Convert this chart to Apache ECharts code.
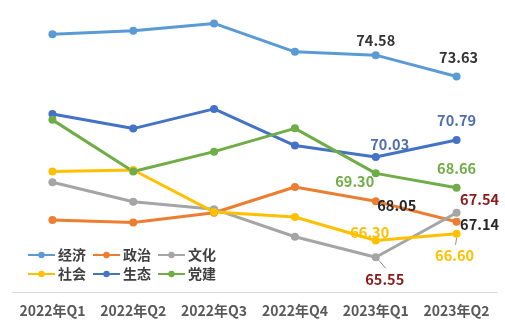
<!DOCTYPE html>
<html><head><meta charset="utf-8">
<script src="https://cdn.jsdelivr.net/npm/echarts@6/dist/echarts.min.js"></script>
<style>html,body{margin:0;padding:0;background:#fff}#c{width:505px;height:328px}</style>
</head><body><div id="c"></div>
<script>
const categories = ['2022年Q1','2022年Q2','2022年Q3','2022年Q4','2023年Q1','2023年Q2'];
const seriesNames = ['经济','政治','文化','社会','生态','党建'];
const jingji = [75.51, 75.67, 76.00, 74.73, 74.58, 73.63];
const zhengzhi = [67.22, 67.10, 67.54, 68.69, 68.05, 67.14];
const wenhua = [68.90, 68.03, 67.70, 66.47, 65.55, 67.54];
const shehui = [69.38, 69.45, 67.57, 67.35, 66.30, 66.60];
const shengtai = [71.95, 71.30, 72.18, 70.54, 70.03, 70.79];
const dangjian = [71.69, 69.38, 70.27, 71.31, 69.30, 68.66];

const values = [jingji, zhengzhi, wenhua, shehui, shengtai, dangjian];
const colors = ['#5B9BD5','#ED7D31','#A5A5A5','#FFC000','#4472C4','#70AD47'];
const labelColors = ['#333333','#262626','#8B1A1A','#FFC000','#4F6FAE','#70AD47'];
// label offsets (relative to point) for labelled points [index 4, index 5]
const labelOffsets = [
  [[0,-15],[2,-19]],
  [[21,4],[23,3]],
  [[9,22],[23,-13]],
  [[-6,-8],[-2,22]],
  [[14,-13],[0,-20]],
  [[-21,8],[0,-19]]
];
// leader lines: [series index, point index, start offset, end offset]
const leaders = [[2, 4, [3,3], [10,11]], [3, 5, [0,4], [-1,11]]];
const FONT = "'Noto Sans CJK SC', sans-serif";

const series = seriesNames.map((name, si) => ({
  name, type: 'line',
  symbol: 'circle', symbolSize: 8,
  lineStyle: {width: 3, color: colors[si]},
  itemStyle: {color: colors[si]},
  data: values[si].map((v, i) => {
    if (i < 4) return v;
    const off = labelOffsets[si][i-4];
    return {value: v, label: {show: true, position: 'inside', offset: off,
      formatter: v.toFixed(2), color: labelColors[si], fontSize: 14.5, fontWeight: 'bold', fontFamily: FONT}};
  }),
  label: {show: false},
  emphasis: {disabled: true}
}));

const chart = echarts.init(document.getElementById('c'));
const legendCommon = {
  left: 22, itemWidth: 27, itemHeight: 8, itemGap: 6,
  textStyle: {fontSize: 14, fontWeight: 'bold', color: '#404040', fontFamily: FONT, padding: [0,0,0,-2]}
};
chart.setOption({
  animation: false,
  color: colors,
  grid: {left: 12, right: 8, top: 1, bottom: 36},
  legend: [
    Object.assign({top: 243, data: ['经济','政治','文化']}, legendCommon),
    Object.assign({top: 262, data: ['社会','生态','党建']}, legendCommon)
  ],
  xAxis: {
    type: 'category', data: categories, boundaryGap: true,
    axisLine: {lineStyle: {color: '#D9D9D9', width: 1}},
    axisTick: {show: false},
    axisLabel: {interval: 0, fontSize: 14, fontWeight: 'bold', color: '#595959', fontFamily: FONT, margin: 12}
  },
  yAxis: {type: 'value', min: 64, max: 77, show: false, splitLine: {show: false}},
  series
});
const graphics = leaders.map(([si, i, a, b]) => {
  const p = chart.convertToPixel({gridIndex: 0}, [categories[i], values[si][i]]);
  return {type: 'line', z: 1, shape: {x1: p[0]+a[0], y1: p[1]+a[1], x2: p[0]+b[0], y2: p[1]+b[1]},
    style: {stroke: '#8C8C8C', lineWidth: 1}};
});
chart.setOption({graphic: graphics});
</script></body></html>
